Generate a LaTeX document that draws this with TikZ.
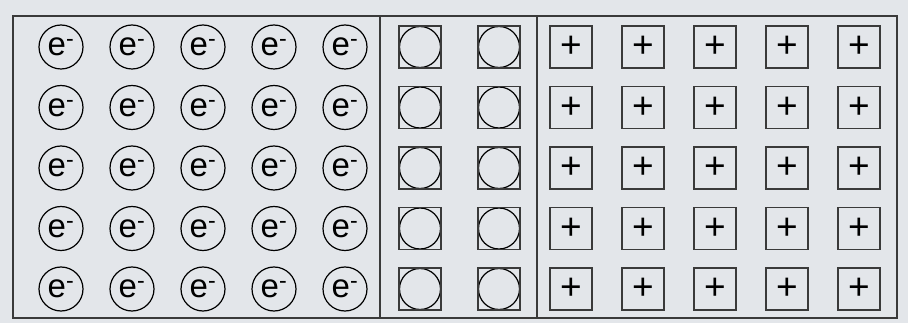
\documentclass[tikz,border=0pt]{standalone}
\usepackage{fontspec}
\setmainfont{Liberation Sans}
\usepackage{xcolor}
\usetikzlibrary{positioning}
\definecolor{bgpanel}{HTML}{E3E6EA}
\definecolor{framegray}{HTML}{3A3A3A}

\begin{document}
\begin{tikzpicture}[x=1pt, y=-1pt,
    electron/.style={circle, draw=black, line width=1.2pt, minimum size=44pt,
                     inner sep=0pt, font=\fontsize{33}{33}\selectfont},
    hole/.style={rectangle, draw=framegray, line width=1.5pt, minimum size=42pt,
                 inner sep=0pt,
                 path picture={\draw[black, line width=1.2pt]
                     (path picture bounding box.center) circle (20.5pt);}},
    ion/.style={rectangle, draw=framegray, line width=1.5pt, minimum size=42pt,
                inner sep=0pt, font=\fontsize{37}{37}\selectfont},
]
% Background
\fill[bgpanel] (0,0) rectangle (908,323);
\useasboundingbox (0,0) rectangle (908,323);

% Frame and dividers
\draw[framegray, line width=2.2pt] (13,16) rectangle (897,318);
\draw[framegray, line width=1.5pt] (380,16) -- (380,318);
\draw[framegray, line width=1.5pt] (537,16) -- (537,318);

% n-side: electrons
\foreach \r [count=\i] in {47,107.5,168,228.5,289} {
  \foreach \c [count=\j] in {61,132,203,274,345} {
    \node[electron] (e-\i-\j) at (\c,\r) {e\textsuperscript{-}};
  }
}

% Depletion region: empty sites
\foreach \r [count=\i] in {47,107.5,168,228.5,289} {
  \foreach \c [count=\j] in {420,499} {
    \node[hole] (h-\i-\j) at (\c,\r) {};
  }
}

% p-side: ions
\foreach \r [count=\i] in {47,107.5,168,228.5,289} {
  \foreach \c [count=\j] in {571,643,715,787,859} {
    \node[ion] (p-\i-\j) at (\c,\r) {+};
  }
}
\end{tikzpicture}
\end{document}
